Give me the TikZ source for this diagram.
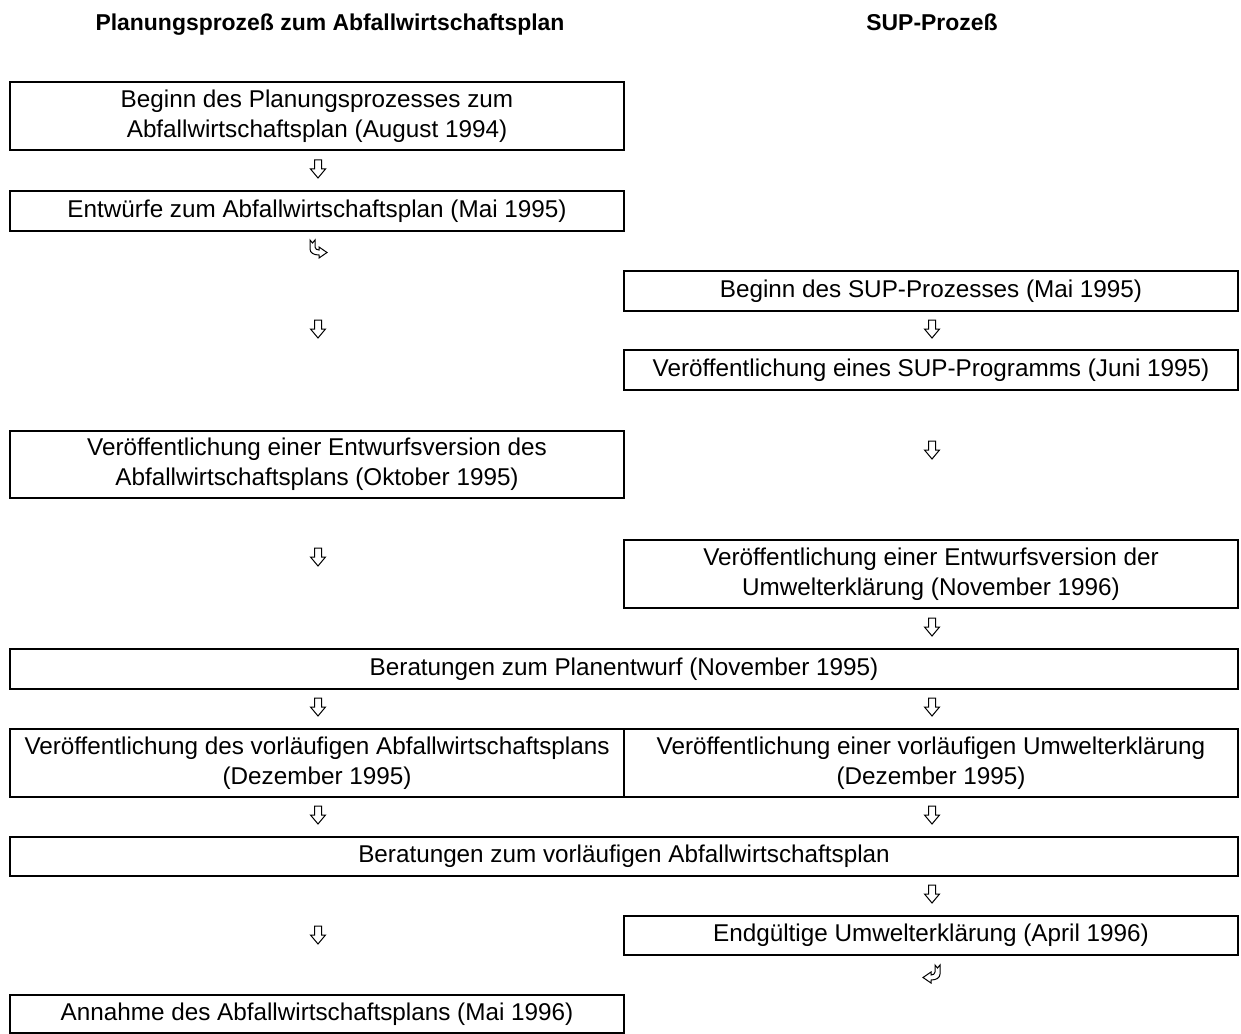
\documentclass[tikz,border=0pt]{standalone}
\usepackage{fontspec}
\setmainfont{Liberation Sans}
\tikzset{
  x=0.75pt, y=-0.75pt,
  box/.style={draw, line width=1.5pt, align=center, inner sep=0pt,
    font=\fontsize{18.2}{22.5}\selectfont},
  lbox/.style={box, minimum width=614*0.75pt},
  rbox/.style={box, minimum width=614*0.75pt},
  fbox/.style={box, minimum width=1228*0.75pt},
  hdr/.style={font=\bfseries\fontsize{17.2}{20}\selectfont, inner sep=0pt, anchor=base},
  downarr/.pic={\draw[line width=0.75pt, fill=white, line join=miter]
    (-3.5,-9) -- (3.5,-9) -- (3.5,0) -- (7.5,0) -- (0,9) -- (-7.5,0) -- (-3.5,0) -- cycle;},
  bentarr/.pic={\draw[line width=0.75pt, fill=white, line join=miter]
    (-8,-10) -- (-5.5,-7) -- (-3,-10) -- (-3,-3) .. controls (-3,-1) and (-1,0) .. (1,0)
    -- (1,-3) -- (9,2.5) -- (1,8) -- (1,5) .. controls (-4,5) and (-8,3) .. (-8,-1) -- cycle;}
}
\begin{document}
\begin{tikzpicture}
\useasboundingbox (0,0) rectangle (1241,1034);
% headers
\node[hdr] (h1) at (330,31) {Planungsprozeß zum Abfallwirtschaftsplan};
\node[hdr] (h2) at (932,31) {SUP-Prozeß};
% boxes
\node[lbox, minimum height=68*0.75pt] (b1) at (317,116) {Beginn des Planungsprozesses zum\\Abfallwirtschaftsplan (August 1994)};
\node[lbox, minimum height=40*0.75pt] (b2) at (317,211) {Entwürfe zum Abfallwirtschaftsplan (Mai 1995)};
\node[rbox, minimum height=40*0.75pt] (b3) at (931,291) {Beginn des SUP-Prozesses (Mai 1995)};
\node[rbox, minimum height=40*0.75pt] (b4) at (931,370) {Veröffentlichung eines SUP-Programms (Juni 1995)};
\node[lbox, minimum height=67*0.75pt] (b5) at (317,464.5) {Veröffentlichung einer Entwurfsversion des\\Abfallwirtschaftsplans (Oktober 1995)};
\node[rbox, minimum height=68*0.75pt] (b6) at (931,574) {Veröffentlichung einer Entwurfsversion der\\Umwelterklärung (November 1996)};
\node[fbox, minimum height=40*0.75pt] (b7) at (624,669) {Beratungen zum Planentwurf (November 1995)};
\node[lbox, minimum height=68*0.75pt] (b8) at (317,763) {Veröffentlichung des vorläufigen Abfallwirtschaftsplans\\(Dezember 1995)};
\node[rbox, minimum height=68*0.75pt] (b9) at (931,763) {Veröffentlichung einer vorläufigen Umwelterklärung\\(Dezember 1995)};
\node[fbox, minimum height=39*0.75pt] (b10) at (624,856.5) {Beratungen zum vorläufigen Abfallwirtschaftsplan};
\node[rbox, minimum height=39*0.75pt] (b11) at (931,935.5) {Endgültige Umwelterklärung (April 1996)};
\node[lbox, minimum height=38*0.75pt] (b12) at (317,1014) {Annahme des Abfallwirtschaftsplans (Mai 1996)};
% arrows
\pic (a1) at (318,169) {downarr};
\pic (a2) at (318,250) {bentarr};
\pic (a3) at (318,329) {downarr};
\pic (a4) at (932,329) {downarr};
\pic (a5) at (932,450) {downarr};
\pic (a6) at (318,557) {downarr};
\pic (a7) at (932,627) {downarr};
\pic (a8) at (318,707) {downarr};
\pic (a9) at (932,707) {downarr};
\pic (a10) at (318,815) {downarr};
\pic (a11) at (932,815) {downarr};
\pic (a12) at (932,894) {downarr};
\pic (a13) at (318,935) {downarr};
\pic[xscale=-1] (a14) at (932,975) {bentarr};
\end{tikzpicture}
\end{document}
